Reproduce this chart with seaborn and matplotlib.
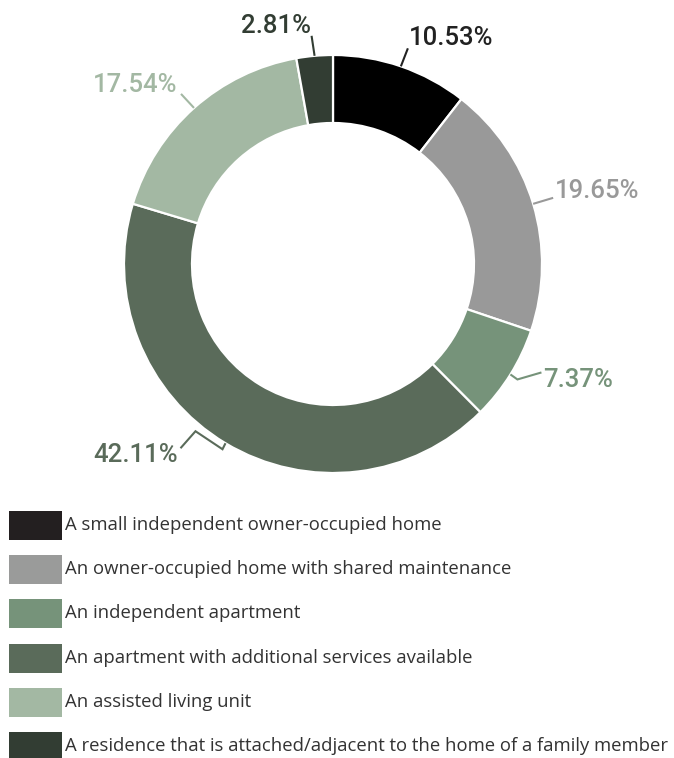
import matplotlib
matplotlib.use("Agg")
import matplotlib.pyplot as plt
from matplotlib.patches import Rectangle
import numpy as np
import seaborn as sns

# Housing preference shares (percent), clockwise from 12 o'clock
categories = [
    "A small independent owner-occupied home",
    "An owner-occupied home with shared maintenance",
    "An independent apartment",
    "An apartment with additional services available",
    "An assisted living unit",
    "A residence that is attached/adjacent to the home of a family member",
]
shares = [10.53, 19.65, 7.37, 42.11, 17.54, 2.81]
value_labels = ["10.53%", "19.65%", "7.37%", "42.11%", "17.54%", "2.81%"]

wedge_colors = ["#000000", "#999999", "#76937a", "#5a6b5a", "#a3b8a3", "#323d33"]
legend_colors = ["#231f20", "#9a9b9a", "#76937a", "#5a6b5a", "#a3b8a3", "#323d33"]
label_colors = ["#222222", "#999999", "#76937a", "#5a6b5a", "#a3b8a3", "#323d33"]

sns.set_theme(style="white")
plt.rcParams["font.family"] = ["Roboto", "DejaVu Sans"]

W, H = 674, 758
fig = plt.figure(figsize=(W / 100, H / 100), dpi=100)
ax = fig.add_axes([0, 0, 1, 1])

cx, cy, R, ring = 333, 264, 209, 68

# y axis runs downward (pixel-like), so counterclock=True draws clockwise on screen
wedges, _ = ax.pie(
    shares,
    colors=wedge_colors,
    startangle=-90,
    counterclock=True,
    center=(cx, cy),
    radius=R,
    wedgeprops=dict(width=ring, edgecolor="white", linewidth=1.6),
    frame=True,
)
ax.set_xlim(0, W)
ax.set_ylim(H, 0)
ax.set_aspect("auto")
ax.set_axis_off()

# Leader-line shapes (offsets from the wedge's outer mid-point) and label placement
leaders = [
    [(0, 0), (7, -18)],
    [(0, 0), (20, -6)],
    [(0, 0), (7, 5), (31, -2)],
    [(0, 0), (-3, 6), (-30, -12), (-45, 5)],
    [(0, 0), (-13, -14)],
    [(0, 0), (-3, -20)],
]
text_pos = [
    (409, 45, "left"),
    (555, 198, "left"),
    (543, 387, "left"),
    (178, 462, "right"),
    (177, 92, "right"),
    (311, 33, "right"),
]

cum = np.cumsum([0] + shares[:-1])
total = sum(shares)
for i, w in enumerate(wedges):
    mid = (cum[i] + shares[i] / 2) / total * 2 * np.pi
    ax_x = cx + R * np.sin(mid)
    ax_y = cy - R * np.cos(mid)
    pts = np.array(leaders[i], dtype=float) + [ax_x, ax_y]
    ax.plot(pts[:, 0], pts[:, 1], color=label_colors[i], lw=1.5,
            solid_capstyle="butt", solid_joinstyle="miter")
    tx, ty, ha = text_pos[i]
    ax.text(tx, ty, value_labels[i], ha=ha, va="baseline", fontsize=18.5,
            fontweight="medium", color=label_colors[i])

# Legend: colour swatch plus category name per row
row0, step = 511, 44.2
for i, name in enumerate(categories):
    top = row0 + i * step
    ax.add_patch(Rectangle((9, top), 53, 29, facecolor=legend_colors[i],
                           edgecolor="none", clip_on=False))
    ax.text(65, top + 19, name, ha="left", va="baseline", fontsize=13.3,
            color="#333333", family=["Open Sans", "DejaVu Sans"])

fig.savefig("out.png", dpi=100, facecolor="white")
